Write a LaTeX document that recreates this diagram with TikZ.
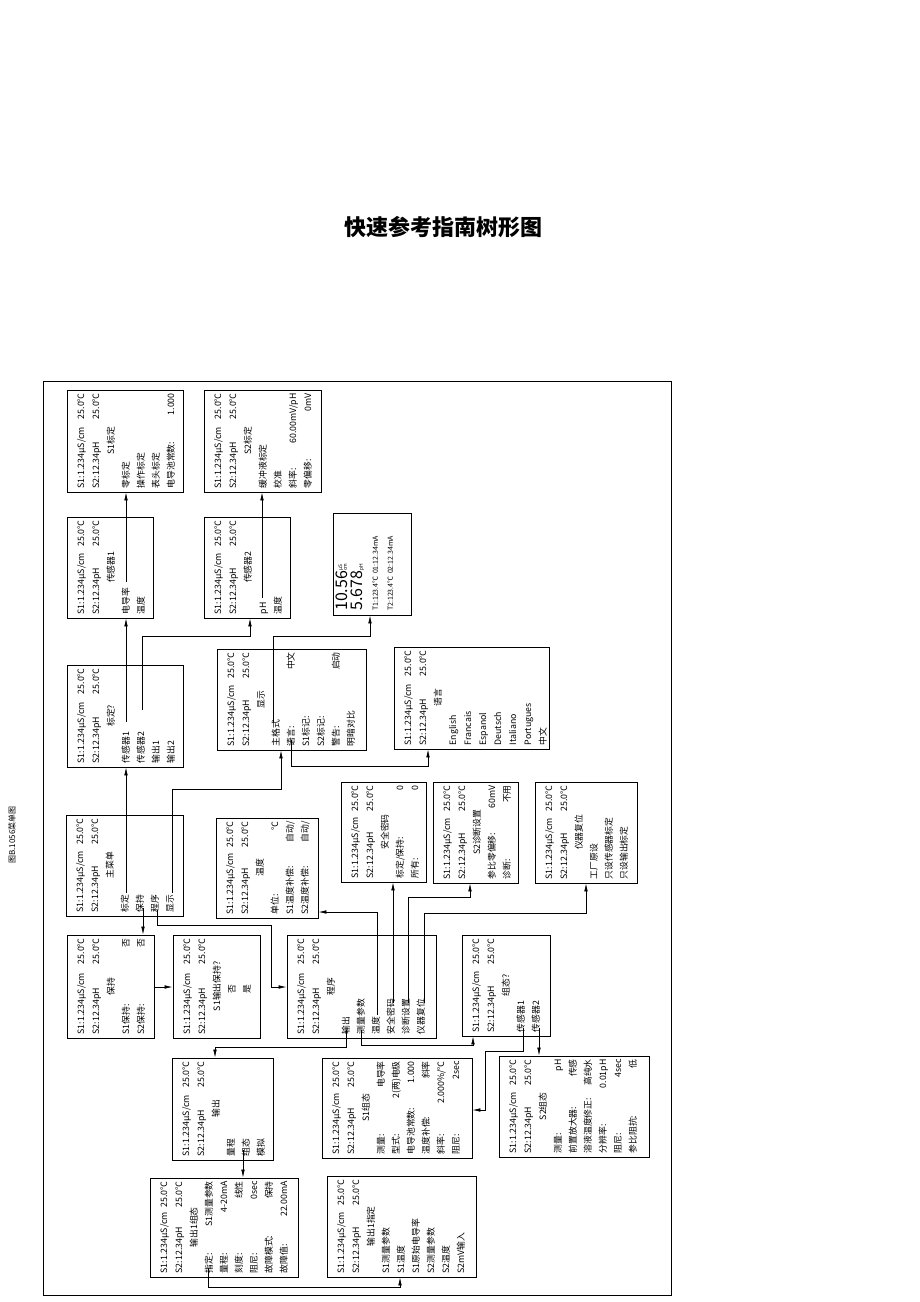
\documentclass[tikz,border=0pt]{standalone}
\usepackage{fontspec}
\setmainfont{Noto Sans CJK SC}
\usetikzlibrary{arrows.meta,fit}
\tikzset{
  box/.style={draw, line width=0.8pt, inner sep=0pt},
  txt/.style={inner sep=0pt, align=left, font=\fontsize{8.8}{15}\selectfont},
  arr/.style={-{Latex[length=8pt,width=3.6pt]}, line width=0.7pt},
  wire/.style={line width=0.7pt}
}
\newcommand\lr[2]{#1\hfill #2}
\newcommand\ttl[1]{\mbox{}\hfill #1\hfill\mbox{}}
\newcommand\hdr{\lr{S1:1.234μS/cm}{25.0℃}\\\lr{S2:12.34pH}{25.0℃}}
\newcommand\panel[6]{%
  \path (#2,#3) coordinate (#1-nw) (#4,#5) coordinate (#1-se);
  \node [box, fit=(#1-nw)(#1-se)] (#1) {};
  \pgfmathsetmacro\pw{#5-#3-7}
  \node [txt, rotate=90, anchor=north west, text width=\pw pt] (#1-t) at (#2+10,#5-3.5) {#6};}
\begin{document}
\begin{tikzpicture}[x=1pt,y=-1pt]
  \useasboundingbox (0,0) rectangle (920,1302);
  \node [font=\fontsize{22}{22}\selectfont\bfseries] (title) at (443,227) {快速参考指南树形图};
  \node [rotate=90, font=\fontsize{8}{8}\selectfont] (fig) at (12,835) {图B.1056菜单图};
  \draw [line width=0.8pt] (43,381) rectangle (671,1295);

  % top rows
  \panel{A}{67}{390}{183}{492}{\hdr\\\ttl{S1标定}\\零标定\\操作标定\\表头标定\\\lr{电导池常数:}{1.000}}
  \panel{B}{204}{390}{321}{492}{\hdr\\\ttl{S2标定}\\缓冲液标定\\校准\\\lr{斜率:}{60.00mV/pH}\\\lr{零偏移:}{0mV}}
  \panel{C}{67}{517}{153}{618}{\hdr\\\ttl{传感器1}\\电导率\\温度}
  \panel{D}{204}{517}{290}{618}{\hdr\\\ttl{传感器2}\\pH\\温度}
  \path (333,513) coordinate (E-nw) (411,615) coordinate (E-se);
  \node [box, fit=(E-nw)(E-se)] (E) {};
  \node [txt, rotate=90, anchor=north west, text width=94pt,
    font=\fontsize{7}{15}\selectfont] (E-t) at (336,611)
    {{\fontsize{16}{15}\selectfont 10.56}\raisebox{1pt}{\shortstack{\tiny μS\\[-2pt]\tiny cm}}\\
     {\fontsize{16}{15}\selectfont 5.678}{\tiny pH}\\
     T1:123.4℃ 01:12.34mA\\T2:123.4℃ 02:12.34mA};

  % middle rows
  \panel{F}{67}{665}{183}{767}{\hdr\\\ttl{标定?}\\传感器1\\传感器2\\输出1\\输出2}
  \panel{G}{217}{649}{366}{750}{\hdr\\\ttl{显示}\\主格式\\\lr{语言:}{中文}\\S1标记:\\S2标记:\\\lr{警告:}{启动}\\明暗对比}
  \panel{H}{394}{647}{549}{749}{\hdr\\\ttl{语言}\\English\\Francais\\Espanol\\Deutsch\\Italiano\\Portugues\\中文}
  \panel{I}{341}{782}{426}{882}{\hdr\\\ttl{安全密码}\\\lr{标定/保持:}{0}\\\lr{所有:}{0}}
  \panel{J}{433}{782}{518}{883}{\hdr\\\ttl{S2诊断设置}\\\lr{参比零偏移:}{60mV}\\\lr{诊断:}{不用}}
  \panel{K}{535}{782}{637}{883}{\hdr\\\ttl{仪器复位}\\工厂原设\\只设传感器标定\\只设输出标定}
  \panel{L}{66}{815}{183}{916}{\hdr\\\ttl{主菜单}\\标定\\保持\\程序\\显示}
  \panel{M}{216}{818}{318}{918}{\hdr\\\ttl{温度}\\\lr{单位:}{℃}\\\lr{S1温度补偿:}{自动/}\\\lr{S2温度补偿:}{自动/}}

  % lower rows
  \panel{N}{67}{935}{154}{1038}{\hdr\\\ttl{保持}\\\lr{S1保持:}{否}\\\lr{S2保持:}{否}}
  \panel{O}{173}{935}{260}{1038}{\hdr\\\ttl{S1输出保持?}\\\hspace*{4.6em}否\\\hspace*{4.6em}是}
  \panel{P}{287}{935}{436}{1038}{\hdr\\\ttl{程序}\\输出\\测量参数\\温度\\安全密码\\诊断设置\\仪器复位}
  \panel{Q}{462}{935}{550}{1036}{\hdr\\\ttl{组态?}\\传感器1\\传感器2}
  \panel{R}{172}{1058}{273}{1160}{\hdr\\\ttl{输出}\\量程\\组态\\模拟}
  \panel{S}{322}{1058}{472}{1158}{\hdr\\\ttl{S1组态}\\\lr{测量:}{电导率}\\\lr{型式:}{2(两)电极}\\\lr{电导池常数:}{1.000}\\\lr{温度补偿:}{斜率}\\\lr{斜率:}{2.000\%/℃}\\\lr{阻尼:}{2sec}}
  \panel{T}{499}{1056}{649}{1157}{\hdr\\\ttl{S2组态}\\\lr{测量:}{pH}\\\lr{前置放大器:}{传感}\\\lr{溶液温度修正:}{高纯水}\\\lr{分辨率:}{0.01pH}\\\lr{阻尼:}{4sec}\\\lr{参比阻抗:}{低}}
  \panel{U}{150}{1178}{298}{1277}{\hdr\\\ttl{输出1组态}\\\lr{指定:}{S1测量参数}\\\lr{量程:}{4-20mA}\\\lr{刻度:}{线性}\\\lr{阻尼:}{0sec}\\\lr{故障模式:}{保持}\\\lr{故障值:}{22.00mA}}
  \panel{V}{327}{1176}{476}{1277}{\hdr\\\ttl{输出1指定}\\S1测量参数\\S1温度\\S1原始电导率\\S2测量参数\\S2温度\\S2mV输入}

  % connectors
  \coordinate (l-cal) at (126,893);
  \coordinate (f-s1) at (126,722);
  \coordinate (c-cond) at (126,582);
  \coordinate (f-s2) at (142,710);
  \coordinate (d-ph) at (262,598);
  \coordinate (l-hold) at (143,908);
  \coordinate (l-prog) at (157,910);
  \coordinate (l-disp) at (172,893);
  \coordinate (g-fmt) at (273,722);
  \coordinate (g-lang) at (291,740);
  \coordinate (p-out) at (346,1030);
  \coordinate (p-meas) at (361,1030);
  \coordinate (p-temp) at (377,1015);
  \coordinate (p-sec) at (393,1003);
  \coordinate (p-diag) at (408,1003);
  \coordinate (p-rst) at (424,1003);
  \coordinate (q-s1) at (523,1028);
  \coordinate (q-s2) at (539,1028);
  \coordinate (r-cfg) at (243,1150);
  \coordinate (u-asg) at (208,1268);

  \draw [arr] (l-cal) -- (l-cal |- F.south);
  \draw [arr] (f-s1) -- (f-s1 |- C.south);
  \draw [arr] (c-cond) -- (c-cond |- A.south);
  \draw [arr] (f-s2) -- (142,636) -- (250,636) -- (250,0 |- D.south);
  \draw [arr] (d-ph) -- (d-ph |- B.south);
  \draw [arr] (l-hold) -- (l-hold |- N.north);
  \draw [arr] (N.east |- 0,987) -- (O.west |- 0,987);
  \draw [arr] (l-prog) -- (157,925) -- (271,925) -- (271,987) -- (P.west |- 0,987);
  \draw [arr] (l-disp) -- (172,789) -- (281,789) -- (281,0 |- G.south);
  \draw [arr] (g-fmt) -- (273,636) -- (370,636) -- (370,0 |- E.south);
  \draw [arr] (g-lang) -- (291,766) -- (428,766) -- (428,0 |- H.south);
  \draw [arr] (p-out) -- (346,1047) -- (215,1047) -- (215,0 |- R.north);
  \draw [arr] (p-meas) -- (361,1045) -- (473,1045) -- (473,0 |- Q.south);
  \draw [arr] (p-temp) -- (377,912) -- (M.east |- 0,912);
  \draw [arr] (p-sec) -- (p-sec |- I.south);
  \draw [arr] (p-diag) -- (408,897) -- (470,897) -- (470,0 |- J.south);
  \draw [arr] (p-rst) -- (424,913) -- (586,913) -- (586,0 |- K.south);
  \draw [arr] (q-s1) -- (523,1051) -- (485,1051) -- (485,1110) -- (S.east |- 0,1110);
  \draw [arr] (q-s2) -- (q-s2 |- T.north);
  \draw [arr] (r-cfg) -- (r-cfg |- U.north);
  \draw [arr] (u-asg) -- (208,1287) -- (400,1287) -- (400,0 |- V.south);
\end{tikzpicture}
\end{document}
